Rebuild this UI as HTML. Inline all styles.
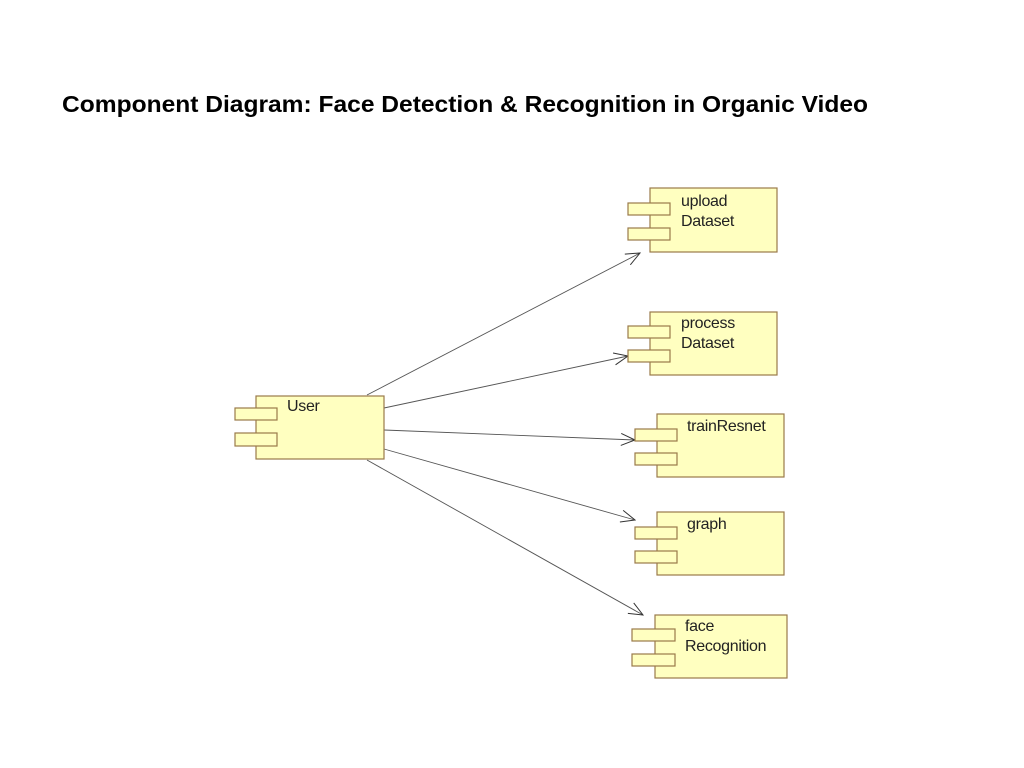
<!DOCTYPE html>
<html><head><style>body{margin:0;background:#fff}svg{display:block}</style></head>
<body>
<svg width="1024" height="768" xmlns="http://www.w3.org/2000/svg" font-family="Liberation Sans, sans-serif">
<text x="62" y="112" font-size="23" font-weight="bold" fill="#000" textLength="806" lengthAdjust="spacingAndGlyphs">Component Diagram: Face Detection &amp; Recognition in Organic Video</text>
<defs><marker id="a" markerWidth="16" markerHeight="14" refX="15" refY="7" orient="auto" markerUnits="userSpaceOnUse"><path d="M1,1 L15,7 L1,13" fill="none" stroke="#333" stroke-width="1"/></marker></defs>
<g stroke="#555" stroke-width="0.9" fill="none" marker-end="url(#a)">
<line x1="367" y1="395" x2="640" y2="253"/>
<line x1="384" y1="408" x2="628" y2="356"/>
<line x1="384" y1="430" x2="635" y2="440"/>
<line x1="384" y1="449" x2="635" y2="520"/>
<line x1="367" y1="460" x2="643" y2="615"/>
</g>
<g fill="#ffffc0" stroke="#9a7a4a" stroke-width="1.2">
<rect x="256" y="396" width="128" height="63"/><rect x="235" y="408" width="42" height="12"/><rect x="235" y="433" width="42" height="13"/>
<rect x="650" y="188" width="127" height="64"/><rect x="628" y="203" width="42" height="12"/><rect x="628" y="228" width="42" height="12"/>
<rect x="650" y="312" width="127" height="63"/><rect x="628" y="326" width="42" height="12"/><rect x="628" y="350" width="42" height="12"/>
<rect x="657" y="414" width="127" height="63"/><rect x="635" y="429" width="42" height="12"/><rect x="635" y="453" width="42" height="12"/>
<rect x="657" y="512" width="127" height="63"/><rect x="635" y="527" width="42" height="12"/><rect x="635" y="551" width="42" height="12"/>
<rect x="655" y="615" width="132" height="63"/><rect x="632" y="629" width="43" height="12"/><rect x="632" y="654" width="43" height="12"/>
</g>
<g font-size="16" fill="#222" letter-spacing="-0.3">
<text x="287" y="411">User</text>
<text x="681" y="206">upload</text><text x="681" y="226">Dataset</text>
<text x="681" y="328">process</text><text x="681" y="348">Dataset</text>
<text x="687" y="431">trainResnet</text>
<text x="687" y="529">graph</text>
<text x="685" y="631">face</text><text x="685" y="651">Recognition</text>
</g>
</svg>
</body></html>
